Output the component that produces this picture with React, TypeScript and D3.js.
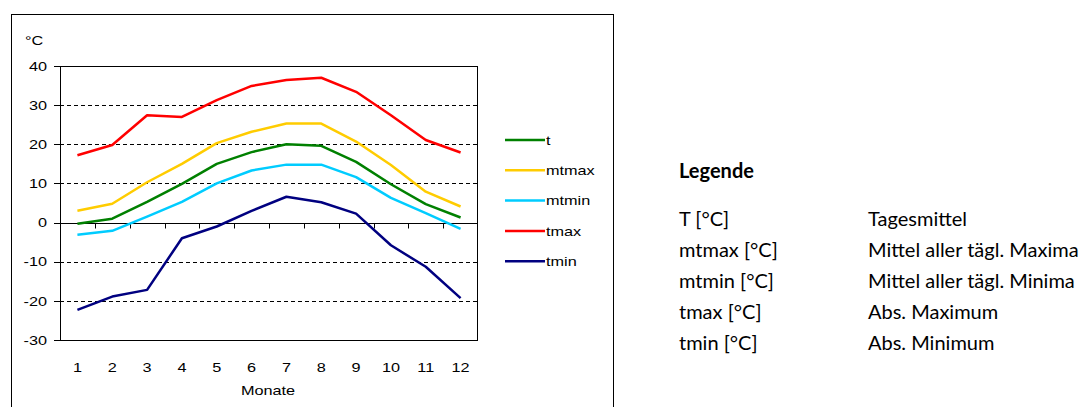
import React from "react";
import * as d3 from "d3";

const months = [1, 2, 3, 4, 5, 6, 7, 8, 9, 10, 11, 12];
const tVals = [-0.3, 1, 5.3, 9.9, 15, 18, 20, 19.6, 15.5, 9.8, 4.7, 1.3];
const mtmaxVals = [3, 4.8, 10.3, 15, 20.3, 23.2, 25.3, 25.3, 20.7, 14.7, 7.9, 4.1];
const mtminVals = [-3.1, -2.1, 1.5, 5.3, 10, 13.3, 14.8, 14.8, 11.6, 6.3, 2.4, -1.6];
const tmaxVals = [17.2, 19.8, 27.4, 27, 31.3, 34.9, 36.4, 37, 33.4, 27.4, 21.1, 17.9];
const tminVals = [-22.3, -18.9, -17.2, -4, -1, 3, 6.6, 5.2, 2.3, -5.8, -11.3, -19.3];
const yTicks = [40, 30, 20, 10, 0, -10, -20, -30];
const gridValues = [30, 20, 10, -10, -20];

const seriesNames = ["t", "mtmax", "mtmin", "tmax", "tmin"];
const seriesData = [tVals, mtmaxVals, mtminVals, tmaxVals, tminVals];
const seriesColors = ["#008000", "#FFCC00", "#00CCFF", "#FF0000", "#000080"];

const legendRows = ["T [°C]", "mtmax [°C]", "mtmin [°C]", "tmax [°C]", "tmin [°C]"];
const legendDesc = [
  "Tagesmittel",
  "Mittel aller tägl. Maxima",
  "Mittel aller tägl. Minima",
  "Abs. Maximum",
  "Abs. Minimum",
];

const chartFont = "'Liberation Sans', Arial, sans-serif";
const docFont = "Lato, 'Open Sans', sans-serif";
const SX = 1.25;

function SText({ x, y, anchor = "start", children }: any) {
  return (
    <text
      transform={`translate(${x},${y}) scale(${SX},1)`}
      textAnchor={anchor}
      fontFamily={chartFont}
      fontSize={13}
      fill="#000"
    >
      {children}
    </text>
  );
}

export default function App() {
  const left = 60, right = 478, top = 66, bottom = 340;
  const x = d3.scaleBand<number>().domain(months).range([left, right]);
  const y = d3.scaleLinear().domain([-30, 40]).range([bottom, top]);
  const cx = (m: number) => (x(m) as number) + x.bandwidth() / 2;
  const line = d3
    .line<number>()
    .x((_, i) => cx(months[i]))
    .y((d) => y(d));
  const py = (v: number) => Math.round(y(v)) + 0.5;
  const zeroY = py(0);

  return (
    <svg
      width={1082}
      height={407}
      style={{ position: "absolute", left: 0, top: 0, background: "#fff" }}
    >
      <rect x={0} y={0} width={1082} height={407} fill="#fff" />
      {/* outer chart frame */}
      <rect x={11.5} y={14.5} width={602} height={420} fill="#fff" stroke="#000" strokeWidth={1} />
      {/* gridlines */}
      {gridValues.map((v) => (
        <line key={v} x1={left} x2={right} y1={py(v)} y2={py(v)} stroke="#000" strokeDasharray="4,3" />
      ))}
      {/* x axis at zero */}
      <line x1={left} x2={right} y1={zeroY} y2={zeroY} stroke="#000" />
      {months.slice(1).map((m) => {
        const xx = Math.round(x(m) as number) + 0.5;
        return <line key={m} x1={xx} x2={xx} y1={zeroY} y2={zeroY + 5} stroke="#000" />;
      })}
      {/* y ticks */}
      {yTicks.map((v) => (
        <line key={v} x1={left - 6} x2={left} y1={py(v)} y2={py(v)} stroke="#000" />
      ))}
      {yTicks.map((v) => (
        <SText key={v} x={47} y={y(v) + 4.7} anchor="end">
          {v}
        </SText>
      ))}
      {/* series */}
      {seriesData.map((d, i) => (
        <path
          key={seriesNames[i]}
          d={line(d) as string}
          fill="none"
          stroke={seriesColors[i]}
          strokeWidth={2.5}
          strokeLinejoin="round"
        />
      ))}
      {/* plot border */}
      <rect x={left + 0.5} y={top + 0.5} width={right - left - 1} height={bottom - top} fill="none" stroke="#000" />
      {/* x labels */}
      {months.map((m) => (
        <SText key={m} x={cx(m)} y={372} anchor="middle">
          {m}
        </SText>
      ))}
      <SText x={268} y={395} anchor="middle">Monate</SText>
      <SText x={25} y={45}>°C</SText>
      {/* chart legend */}
      {seriesNames.map((n, i) => {
        const ly = 140 + i * 30.3;
        return (
          <g key={n}>
            <line x1={505} x2={545} y1={ly} y2={ly} stroke={seriesColors[i]} strokeWidth={2.5} />
            <SText x={546} y={ly + 4.7}>{n}</SText>
          </g>
        );
      })}
      {/* document legend */}
      <text x={679} y={178} fontFamily={docFont} fontSize={20} fontWeight="bold" fill="#000">
        Legende
      </text>
      {legendRows.map((r, i) => (
        <g key={r}>
          <text x={679} y={226 + i * 31} fontFamily={docFont} fontSize={20} fill="#000">
            {r}
          </text>
          <text x={868} y={226 + i * 31} fontFamily={docFont} fontSize={20} fill="#000">
            {legendDesc[i]}
          </text>
        </g>
      ))}
    </svg>
  );
}
